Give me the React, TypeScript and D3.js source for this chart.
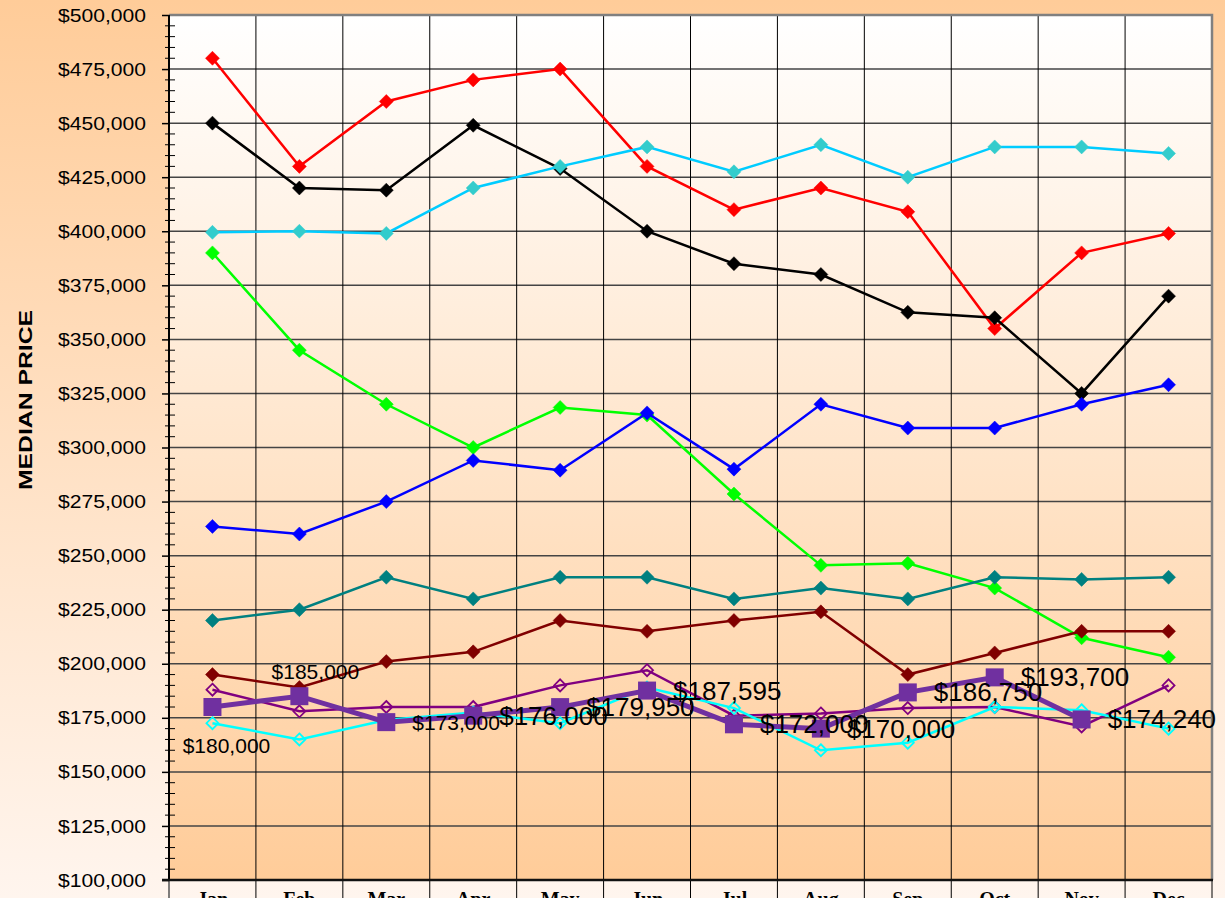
import { useEffect, useRef } from 'react';
import * as d3 from 'd3';

const months = ['Jan', 'Feb', 'Mar', 'Apr', 'May', 'Jun', 'Jul', 'Aug', 'Sep', 'Oct', 'Nov', 'Dec'];

const redSeries = [480000, 430000, 460000, 470000, 475000, 430000, 410000, 420000, 409000, 355000, 390000, 399000];
const blackSeries = [450000, 420000, 419000, 449000, 429000, 400000, 385000, 380000, 362500, 360000, 325000, 370000];
const skySeries = [399500, 400000, 399000, 420000, 430000, 439000, 427500, 440000, 425000, 439000, 439000, 436000];
const greenSeries = [390000, 345000, 320000, 300000, 318500, 315000, 278500, 245500, 246500, 235000, 212000, 203000];
const blueSeries = [263500, 260000, 275000, 294000, 289500, 316000, 290000, 320000, 309000, 309000, 320000, 329000];
const tealSeries = [220000, 225000, 240000, 230000, 240000, 240000, 230000, 235000, 230000, 240000, 239000, 240000];
const maroonSeries = [195000, 189000, 201000, 205500, 220000, 215000, 220000, 224000, 195000, 205000, 215000, 215000];
const purpleSeries = [188000, 178000, 180000, 180000, 190000, 197000, 176000, 177000, 179500, 180000, 171000, 190000];
const cyanSeries = [172500, 165000, 174000, 177500, 172500, 189000, 179500, 160000, 163500, 180000, 178500, 170000];
// highlighted series, no December value
const mainSeries = [180000, 185000, 173000, 176000, 179950, 187595, 172000, 170000, 186750, 193700, 174240];

const yTicks = d3.range(100000, 500001, 25000);

// label placement for the highlighted series
const labelPlace = ['below', 'above', 'right', 'right', 'right', 'right', 'right', 'right', 'right', 'right', 'right'];
const labelSize = [21, 21, 21, 26, 26, 26, 26, 26, 26, 26, 26];

type Style = { values: number[]; line: string; marker: string; hollow?: boolean };

const series: Style[] = [
  { values: redSeries, line: '#FF0000', marker: '#FF0000' },
  { values: blackSeries, line: '#000000', marker: '#000000' },
  { values: skySeries, line: '#00CCFF', marker: '#33CCCC' },
  { values: greenSeries, line: '#00FF00', marker: '#00FF00' },
  { values: blueSeries, line: '#0000FF', marker: '#0000FF' },
  { values: tealSeries, line: '#008080', marker: '#008080' },
  { values: maroonSeries, line: '#800000', marker: '#800000' },
  { values: purpleSeries, line: '#800080', marker: '#800080', hollow: true },
  { values: cyanSeries, line: '#00FFFF', marker: '#00FFFF', hollow: true },
];

const W = 1225;
const H = 898;

export default function App() {
  const svgRef = useRef<SVGSVGElement>(null);

  useEffect(() => {
    if (!svgRef.current) return;
    const svg = d3.select(svgRef.current);
    svg.selectAll('*').remove();

    const left = 169;
    const right = 1212;
    const top = 15;
    const bottom = 880;

    const x = d3.scaleBand().domain(months).range([left, right]).padding(0);
    const y = d3.scaleLinear().domain([100000, 500000]).range([bottom, top]);
    const cx = (i: number) => (x(months[i]) || 0) + x.bandwidth() / 2;

    const defs = svg.append('defs');
    const outer = defs.append('linearGradient').attr('id', 'outerBg').attr('x1', 0).attr('y1', 0).attr('x2', 0).attr('y2', 1);
    outer.append('stop').attr('offset', '0%').attr('stop-color', '#FFCC99');
    outer.append('stop').attr('offset', '100%').attr('stop-color', '#FFF5EE');
    const inner = defs.append('linearGradient').attr('id', 'plotBg').attr('x1', 0).attr('y1', 0).attr('x2', 0).attr('y2', 1);
    inner.append('stop').attr('offset', '0%').attr('stop-color', '#FFFFFF');
    inner.append('stop').attr('offset', '100%').attr('stop-color', '#FFCC99');

    svg.append('rect').attr('width', W).attr('height', H).attr('fill', 'url(#outerBg)');
    svg.append('rect')
      .attr('x', left).attr('y', top)
      .attr('width', right - left).attr('height', bottom - top)
      .attr('fill', 'url(#plotBg)');

    // horizontal grid
    svg.append('g')
      .selectAll('line')
      .data(yTicks.slice(1))
      .join('line')
      .attr('x1', left).attr('x2', right)
      .attr('y1', (d) => y(d)).attr('y2', (d) => y(d))
      .attr('stroke', '#444').attr('stroke-width', 1.5);

    // vertical category lines, running through the label band
    const bounds = months.map((m) => x(m) || 0).concat([right]);
    svg.append('g')
      .selectAll('line')
      .data(bounds.slice(1, -1))
      .join('line')
      .attr('x1', (d) => d).attr('x2', (d) => d)
      .attr('y1', top).attr('y2', H)
      .attr('stroke', '#000').attr('stroke-width', 1);
    svg.append('line')
      .attr('x1', right).attr('x2', right).attr('y1', bottom).attr('y2', H)
      .attr('stroke', '#000').attr('stroke-width', 1);
    svg.append('line')
      .attr('x1', left).attr('x2', left).attr('y1', bottom).attr('y2', H)
      .attr('stroke', '#555').attr('stroke-width', 1.5);

    // plot border top/right
    svg.append('path')
      .attr('d', `M${left},${top}H${right}V${bottom}`)
      .attr('fill', 'none').attr('stroke', '#808080').attr('stroke-width', 2.5);

    // y minor ticks
    svg.append('g')
      .selectAll('line')
      .data(d3.range(100000, 500001, 5000).filter((v) => v % 25000 !== 0))
      .join('line')
      .attr('x1', left - 4).attr('x2', left + 6)
      .attr('y1', (d) => y(d)).attr('y2', (d) => y(d))
      .attr('stroke', '#000').attr('stroke-width', 1);

    // y axis
    const yAxis = svg.append('g')
      .attr('transform', `translate(${left},0)`)
      .call(d3.axisLeft(y).tickValues(yTicks).tickSize(7).tickPadding(16).tickFormat((d) => d3.format('$,.0f')(d as number)));
    yAxis.select('.domain').remove();
    yAxis.selectAll('.tick line').attr('stroke', '#000').attr('stroke-width', 1.5);
    yAxis.selectAll('.tick text')
      .attr('fill', '#000')
      .attr('font-family', 'Liberation Sans, Arial, sans-serif')
      .attr('font-size', 19)
      .attr('textLength', 88)
      .attr('lengthAdjust', 'spacingAndGlyphs');

    svg.append('line')
      .attr('x1', left).attr('x2', left).attr('y1', top).attr('y2', bottom + 1)
      .attr('stroke', '#000').attr('stroke-width', 2);
    svg.append('line')
      .attr('x1', left - 7).attr('x2', right + 1).attr('y1', bottom).attr('y2', bottom)
      .attr('stroke', '#111').attr('stroke-width', 2.5);

    // month labels (cut by the page edge)
    svg.append('g')
      .selectAll('text')
      .data(months)
      .join('text')
      .attr('x', (_, i) => cx(i))
      .attr('y', 906)
      .attr('text-anchor', 'middle')
      .attr('font-family', 'Liberation Serif, Times New Roman, serif')
      .attr('font-weight', 'bold')
      .attr('font-size', 20)
      .text((d) => d);

    // y title
    svg.append('text')
      .attr('transform', `translate(32,400) rotate(-90)`)
      .attr('text-anchor', 'middle')
      .attr('font-family', 'Liberation Sans, Arial, sans-serif')
      .attr('font-weight', 'bold')
      .attr('font-size', 19)
      .attr('textLength', 180)
      .attr('lengthAdjust', 'spacingAndGlyphs')
      .text('MEDIAN PRICE');

    const line = d3.line<number>().x((_, i) => cx(i)).y((d) => y(d));
    const diamond = (px: number, py: number, r: number) =>
      `M${px},${py - r}L${px + r},${py}L${px},${py + r}L${px - r},${py}Z`;

    series.forEach((s) => {
      const g = svg.append('g');
      g.append('path')
        .attr('d', line(s.values))
        .attr('fill', 'none')
        .attr('stroke', s.line)
        .attr('stroke-width', 2.5);
      g.selectAll('path.m')
        .data(s.values)
        .join('path')
        .attr('class', 'm')
        .attr('d', (d, i) => diamond(cx(i), y(d), s.hollow ? 6 : 7))
        .attr('fill', s.hollow ? 'none' : s.marker)
        .attr('stroke', s.marker)
        .attr('stroke-width', s.hollow ? 1.8 : 0.5);
    });

    // highlighted series
    const mg = svg.append('g');
    mg.append('path')
      .attr('d', line(mainSeries))
      .attr('fill', 'none')
      .attr('stroke', '#7030A0')
      .attr('stroke-width', 5);
    mg.selectAll('rect')
      .data(mainSeries)
      .join('rect')
      .attr('x', (_, i) => cx(i) - 9)
      .attr('y', (d) => y(d) - 9)
      .attr('width', 18)
      .attr('height', 18)
      .attr('fill', '#7030A0');

    svg.append('g')
      .selectAll('text')
      .data(mainSeries)
      .join('text')
      .attr('x', (_, i) => cx(i) + (labelPlace[i] === 'right' ? 26 : labelPlace[i] === 'below' ? 14 : 16))
      .attr('y', (d, i) => y(d) + (labelPlace[i] === 'below' ? 38 : labelPlace[i] === 'above' ? -25 : 0))
      .attr('text-anchor', (_, i) => (labelPlace[i] === 'right' ? 'start' : 'middle'))
      .attr('dominant-baseline', 'central')
      .attr('font-family', 'Liberation Sans, Arial, sans-serif')
      .attr('font-size', (_, i) => labelSize[i])
      .attr('fill', '#000')
      .text((d) => d3.format('$,.0f')(d));
  }, []);

  return (
    <svg
      ref={svgRef}
      width={W}
      height={H}
      style={{ position: 'absolute', left: 0, top: 0, display: 'block' }}
    />
  );
}
